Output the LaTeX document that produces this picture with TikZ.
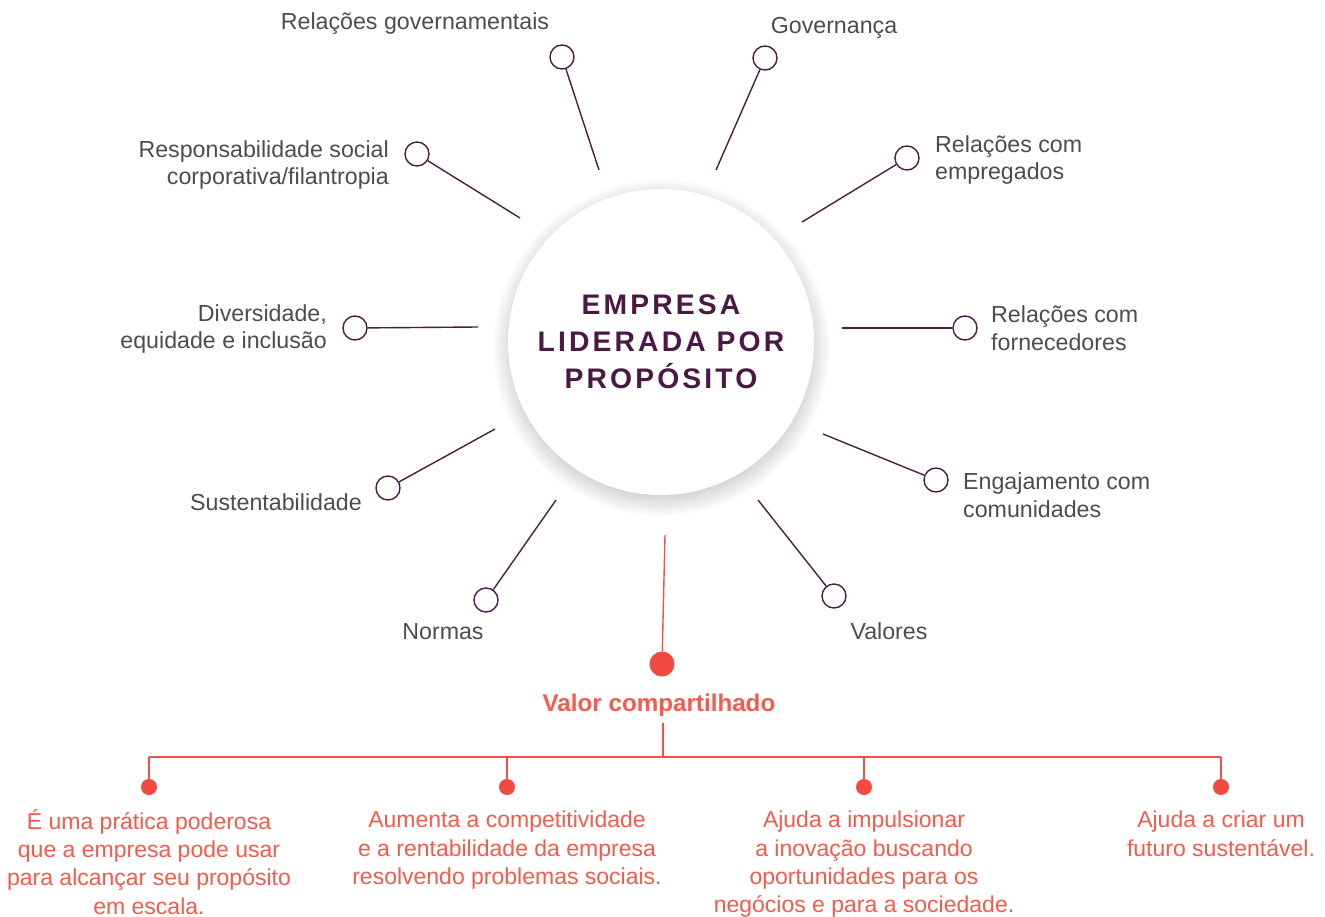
\documentclass[tikz,border=0pt]{standalone}
\usepackage{fontspec}
\setmainfont{Liberation Sans}
\usetikzlibrary{shadows}
\definecolor{spoke}{HTML}{4B1E46}
\definecolor{head}{HTML}{4A1A45}
\definecolor{gtext}{HTML}{4D4D4D}
\definecolor{rdot}{HTML}{F04A42}
\definecolor{rtext}{HTML}{F25C4C}
\definecolor{rline}{HTML}{F0524A}
\begin{document}
\begin{tikzpicture}[x=1pt,y=-1pt,
  ring/.style={circle,draw=spoke,line width=1.4pt,fill=white,minimum size=24pt,inner sep=0pt},
  spokeline/.style={draw=spoke,line width=1.4pt},
  lbl/.style={text=gtext,font=\fontsize{23.2}{27.5}\selectfont,inner sep=0pt},
  rdotst/.style={circle,fill=rdot,minimum size=16pt,inner sep=0pt},
  bigdot/.style={circle,fill=rdot,minimum size=25pt,inner sep=0pt},
  redline/.style={draw=rline,line width=1.4pt},
  rlbl/.style={text=rtext,font=\fontsize{23}{28.3}\selectfont,inner sep=0pt,align=center,anchor=north}
]
\useasboundingbox (0,0) rectangle (1325,917);
\fill[white] (0,0) rectangle (1325,917);
% central circle
\node[circle,fill=white,minimum size=306pt,inner sep=0pt,
  circular drop shadow={shadow xshift=0pt,shadow yshift=-5pt,shadow scale=1.1,opacity=0.42,fill=black!45}]
  (hub) at (661,342) {};
\node[text=head,font=\fontsize{28.3}{37}\bfseries\addfontfeature{LetterSpace=11},align=center,inner sep=0pt] (title) at (661,342) {EMPRESA\\LIDERADA POR\\PROPÓSITO};
% inner spoke ends
\coordinate (i1) at (599,170);
\coordinate (i2) at (716,170);
\coordinate (i3) at (802,222);
\coordinate (i4) at (842,328);
\coordinate (i5) at (823,434);
\coordinate (i6) at (758,500);
\coordinate (i7) at (556,500);
\coordinate (i8) at (495,429);
\coordinate (i9) at (478,327);
\coordinate (i10) at (520,218);
% outer rings
\node[ring] (o1) at (562,57) {};
\node[ring] (o2) at (765,58) {};
\node[ring] (o3) at (907,158) {};
\node[ring] (o4) at (965,328) {};
\node[ring] (o5) at (936,480) {};
\node[ring] (o6) at (834,596) {};
\node[ring] (o7) at (486,600) {};
\node[ring] (o8) at (388,488) {};
\node[ring] (o9) at (355,328) {};
\node[ring] (o10) at (417,154) {};
\foreach \k in {1,...,10}{\draw[spokeline] (i\k) -- (o\k);}
% labels
\node[lbl,anchor=base] (l1) at (415,30) {Relações governamentais};
\node[lbl,anchor=base] (l2) at (834,34) {Governança};
\node[lbl,anchor=west,align=left] (l3) at (935,160) {Relações com\\empregados};
\node[lbl,anchor=west,align=left] (l4) at (991,328) {Relações com\\fornecedores};
\node[lbl,anchor=west,align=left] (l5) at (963,495) {Engajamento com\\comunidades};
\node[lbl,anchor=base] (l6) at (889,639) {Valores};
\node[lbl,anchor=base] (l7) at (443,639) {Normas};
\node[lbl,anchor=base east] (l8) at (362,510) {Sustentabilidade};
\node[lbl,anchor=east,align=right] (l9) at (327,329) {Diversidade,\\equidade e inclusão};
\node[lbl,anchor=east,align=right] (l10) at (389,165) {Responsabilidade social\\corporativa/filantropia};
% shared value
\coordinate (vtop) at (665,535);
\node[bigdot] (vdot) at (662,664) {};
\draw[redline] (vtop) -- (vdot);
\node[text=rtext,font=\fontsize{24.2}{27}\selectfont\bfseries,inner sep=0pt,anchor=base] (vc) at (659,711) {Valor compartilhado};
\coordinate (vs) at (663,723);
\coordinate (vj) at (663,757);
\coordinate (hl) at (149,757);
\coordinate (hr) at (1221,757);
\draw[redline] (vs) -- (vj);
\draw[redline] (hl) -- (hr);
\node[rdotst] (d1) at (149,787) {};
\node[rdotst] (d2) at (507,787) {};
\node[rdotst] (d3) at (864,787) {};
\node[rdotst] (d4) at (1221,787) {};
\coordinate (t1) at (149,757);
\coordinate (t2) at (507,757);
\coordinate (t3) at (864,757);
\coordinate (t4) at (1221,757);
\foreach \k in {1,...,4}{\draw[redline] (t\k) -- (d\k);}
\node[rlbl] (b1) at (149,809) {É uma prática poderosa\\que a empresa pode usar\\para alcançar seu propósito\\em escala.};
\node[rlbl] (b2) at (507,811) {Aumenta a competitividade\\e a rentabilidade da empresa\\resolvendo problemas sociais.};
\node[rlbl] (b3) at (864,811) {Ajuda a impulsionar\\a inovação buscando\\oportunidades para os\\negócios e para a sociedade.};
\node[rlbl] (b4) at (1221,811) {Ajuda a criar um\\futuro sustentável.};
\end{tikzpicture}
\end{document}
